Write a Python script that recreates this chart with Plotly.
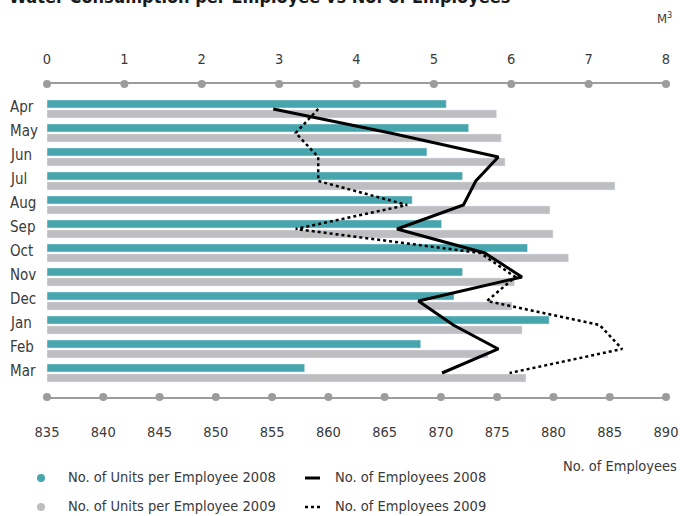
import plotly.graph_objects as go

months = ["Apr", "May", "Jun", "Jul", "Aug", "Sep", "Oct", "Nov", "Dec", "Jan", "Feb", "Mar"]
units_2008 = [5.16, 5.45, 4.91, 5.37, 4.72, 5.10, 6.21, 5.37, 5.26, 6.49, 4.83, 3.33]
units_2009 = [5.81, 5.87, 5.92, 7.34, 6.50, 6.54, 6.74, 6.04, 6.01, 6.14, 5.70, 6.19]
employees_2008 = [855.1, 865.5, 875.1, 873.1, 872.0, 866.1, 873.9, 877.2, 868.0, 871.1, 875.1, 870.1]
employees_2009 = [859.1, 857.1, 859.1, 859.1, 867.0, 857.1, 873.5, 876.6, 874.1, 884.1, 886.1, 876.1]
units_ticks = [0, 1, 2, 3, 4, 5, 6, 7, 8]
emp_ticks = [835, 840, 845, 850, 855, 860, 865, 870, 875, 880, 885, 890]

FONT = "DejaVu Sans Condensed, Liberation Sans Narrow, sans-serif"
FS = 14.5
TEAL = "#47A5AD"
GREY = "#BEBEC0"
AXIS = "#9C9C9C"
TXT = "#3A3A3A"

idx = list(range(len(months)))
Y_TOP = -1.04
Y_BOT = 12.0

fig = go.Figure()
fig.add_trace(go.Bar(y=idx, x=units_2008, orientation="h", marker_color=TEAL,
                     xaxis="x", yaxis="y", showlegend=False, name="No. of Units per Employee 2008"))
fig.add_trace(go.Bar(y=idx, x=units_2009, orientation="h", marker_color=GREY,
                     xaxis="x", yaxis="y", showlegend=False, name="No. of Units per Employee 2009"))
# axis dots
fig.add_trace(go.Scatter(x=units_ticks, y=[Y_TOP] * len(units_ticks), mode="markers",
                         marker=dict(size=8, color=AXIS), xaxis="x", yaxis="y",
                         cliponaxis=False, showlegend=False, hoverinfo="skip"))
fig.add_trace(go.Scatter(x=emp_ticks, y=[Y_BOT] * len(emp_ticks), mode="markers",
                         marker=dict(size=8, color=AXIS), xaxis="x2", yaxis="y",
                         cliponaxis=False, showlegend=False, hoverinfo="skip"))
fig.add_trace(go.Scatter(x=employees_2009, y=idx, mode="lines",
                         line=dict(color="black", width=2.5, dash="dot"),
                         xaxis="x2", yaxis="y", showlegend=False, name="No. of Employees 2009"))
fig.add_trace(go.Scatter(x=employees_2008, y=idx, mode="lines",
                         line=dict(color="black", width=3),
                         xaxis="x2", yaxis="y", showlegend=False, name="No. of Employees 2008"))

L, R, T, B = 47, 14, 84, 119
W, H = 680, 516
pw = W - L - R
ph = H - T - B


def px(xp):
    return (xp - L) / pw


def py(yp):
    return (H - B - yp) / ph


annotations = []
for i, m in enumerate(months):
    annotations.append(dict(text=m, x=px(8), xref="paper", y=i, yref="y", xanchor="left",
                            yanchor="middle", yshift=2, showarrow=False,
                            font=dict(family=FONT, size=15, color=TXT)))

annotations.append(dict(text="<b>Water Consumption per Employee vs No. of Employees</b>",
                        x=px(7), y=py(9), xref="paper", yref="paper", xanchor="left",
                        yanchor="bottom", showarrow=False,
                        font=dict(family=FONT, size=18, color="#1a1a1a")))
annotations.append(dict(text="M<sup>3</sup>", x=px(674), y=py(18), xref="paper", yref="paper",
                        xanchor="right", yanchor="middle", showarrow=False,
                        font=dict(family=FONT, size=13, color=TXT)))
annotations.append(dict(text="No. of Employees", x=px(679), y=py(466), xref="paper", yref="paper",
                        xanchor="right", yanchor="middle", showarrow=False,
                        font=dict(family=FONT, size=FS, color=TXT)))

legend_items = [
    ("No. of Units per Employee 2008", 66, 477),
    ("No. of Employees 2008", 333, 477),
    ("No. of Units per Employee 2009", 66, 506),
    ("No. of Employees 2009", 333, 506),
]
for text, x0, y0 in legend_items:
    annotations.append(dict(text=text, x=px(x0), y=py(y0), xref="paper", yref="paper",
                            xanchor="left", yanchor="middle", showarrow=False,
                            font=dict(family=FONT, size=FS, color=TXT)))

shapes = [
    dict(type="circle", xref="paper", yref="paper", xsizemode="pixel", ysizemode="pixel",
         xanchor=px(41), yanchor=py(478), x0=-4, x1=4, y0=-4, y1=4,
         fillcolor=TEAL, line=dict(width=0)),
    dict(type="circle", xref="paper", yref="paper", xsizemode="pixel", ysizemode="pixel",
         xanchor=px(41), yanchor=py(507), x0=-4, x1=4, y0=-4, y1=4,
         fillcolor=GREY, line=dict(width=0)),
    dict(type="line", xref="paper", yref="paper", x0=px(305), x1=px(320), y0=py(478), y1=py(478),
         line=dict(color="black", width=3)),
    dict(type="line", xref="paper", yref="paper", x0=px(305), x1=px(320), y0=py(507), y1=py(507),
         line=dict(color="black", width=2.5, dash="dot")),
]

fig.update_layout(
    width=W, height=H,
    margin=dict(l=L, r=R, t=T, b=B, pad=0, autoexpand=False),
    paper_bgcolor="white", plot_bgcolor="white",
    barmode="group", bargap=1 / 6, bargroupgap=0.2,
    font=dict(family=FONT, size=FS, color=TXT),
    xaxis=dict(range=[0, 8], side="top", tickvals=units_ticks, showgrid=False, zeroline=False,
               showline=True, linecolor=AXIS, linewidth=2, ticks="", automargin=False,
               ticklabelstandoff=12, tickfont=dict(family=FONT, size=FS, color=TXT)),
    xaxis2=dict(range=[835, 890], side="bottom", overlaying="x", tickvals=emp_ticks,
                showgrid=False, zeroline=False, showline=True, linecolor=AXIS, linewidth=2,
                ticks="", automargin=False, ticklabelstandoff=21,
                tickfont=dict(family=FONT, size=FS, color=TXT)),
    yaxis=dict(range=[Y_BOT, Y_TOP], showticklabels=False, showgrid=False, zeroline=False,
               showline=False, ticks="", automargin=False),
    annotations=annotations,
    shapes=shapes,
    showlegend=False,
)

fig.write_html("out.html")
